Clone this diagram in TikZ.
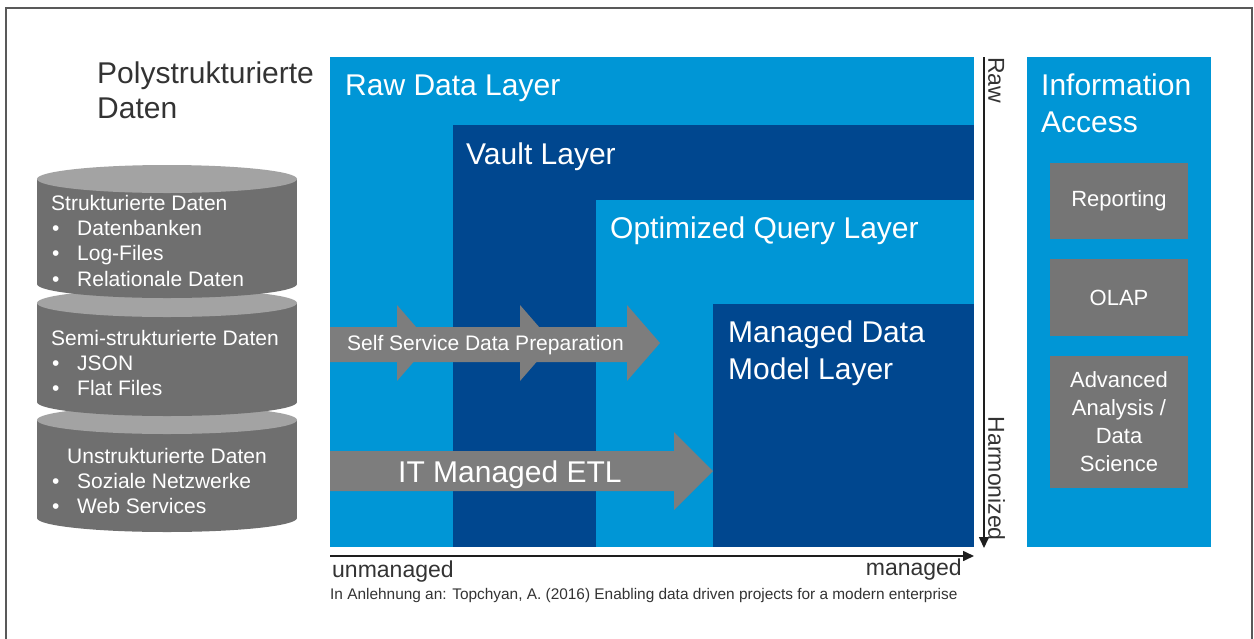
\documentclass[tikz,border=0pt]{standalone}
\usepackage{fontspec}
\setmainfont{Liberation Sans}
\usetikzlibrary{arrows.meta}
\definecolor{lblue}{HTML}{0096D6}
\definecolor{dblue}{HTML}{00478F}
\definecolor{cylbody}{HTML}{6F6F6F}
\definecolor{cyltop}{HTML}{A3A3A3}
\definecolor{agray}{HTML}{7D7D7D}
\definecolor{bgray}{HTML}{757575}
\definecolor{txtdark}{HTML}{333333}
\definecolor{axisc}{HTML}{1E1E1E}
\newcommand\drawcyl[2]{%
  \fill[cylbody] (37,#1) rectangle (297,#2);
  \fill[cylbody] (167,#2) ellipse [x radius=130, y radius=14];
  \fill[cyltop] (167,#1) ellipse [x radius=130, y radius=14];
}
\begin{document}
\begin{tikzpicture}[x=1pt,y=-1pt,
  layertitle/.style={anchor=base west, text=white, inner sep=0pt, font=\fontsize{30}{37}\selectfont},
  cyltext/.style={anchor=base west, text=white, inner sep=0pt, font=\fontsize{21}{25}\selectfont},
  arrowtext/.style={anchor=base west, text=white, inner sep=0pt},
  gbox/.style={fill=bgray, text=white, inner sep=0pt, minimum width=138pt, align=center, font=\fontsize{22}{28}\selectfont},
  axis/.style={line width=1.6pt, draw=axisc, -{Triangle[length=11pt,width=10pt]}},
  axlabel/.style={text=txtdark, inner sep=0pt, font=\fontsize{23}{27}\selectfont}
]
\useasboundingbox (0,0) rectangle (1254,638);
% outer frame
\draw[line width=1.8pt, draw=black!65] (6,650) -- (6,8) -- (1252,8) -- (1252,650);

% title (base = last line)
\node[anchor=base west, text=txtdark, inner sep=0pt, align=left, font=\fontsize{30}{35}\selectfont] (poly) at (97,118) {Polystrukturierte\\Daten};

% cylinders (back to front)
\drawcyl{420}{518}
\drawcyl{303}{402}
\drawcyl{179}{284}

\node[cyltext] (c1t) at (51,210.5) {Strukturierte Daten};
\node[cyltext] (c1b1) at (52,235.5) {•};
\node[cyltext] (c1i1) at (77,235.5) {Datenbanken};
\node[cyltext] (c1b2) at (52,260.5) {•};
\node[cyltext] (c1i2) at (77,260.5) {Log-Files};
\node[cyltext] (c1b3) at (52,286) {•};
\node[cyltext] (c1i3) at (77,286) {Relationale Daten};

\node[cyltext] (c2t) at (51,345.5) {Semi-strukturierte Daten};
\node[cyltext] (c2b1) at (52,370.5) {•};
\node[cyltext] (c2i1) at (77,370.5) {JSON};
\node[cyltext] (c2b2) at (52,395.5) {•};
\node[cyltext] (c2i2) at (77,395.5) {Flat Files};

\node[cyltext] (c3t) at (67,463.5) {Unstrukturierte Daten};
\node[cyltext] (c3b1) at (52,488.5) {•};
\node[cyltext] (c3i1) at (77,488.5) {Soziale Netzwerke};
\node[cyltext] (c3b2) at (52,513.5) {•};
\node[cyltext] (c3i2) at (77,513.5) {Web Services};

% layers
\fill[lblue] (330,57) rectangle (974,547);
\fill[dblue] (453,125) rectangle (974,547);
\fill[lblue] (596,200) rectangle (974,547);
\fill[dblue] (713,304) rectangle (974,547);

\node[layertitle] (raw) at (345,95) {Raw Data Layer};
\node[layertitle] (vault) at (466,164) {Vault Layer};
\node[layertitle] (opt) at (610,238) {Optimized Query Layer};
\node[layertitle, align=left] (mdm) at (728,379) {Managed Data\\Model Layer};

% Self service arrow
\fill[agray] (330,327) -- (627,327) -- (627,305) -- (660,343) -- (627,381) -- (627,362) -- (330,362) -- cycle;
\fill[agray] (397,305) -- (430,343) -- (397,381) -- cycle;
\fill[agray] (520,305) -- (553,343) -- (520,381) -- cycle;
\node[arrowtext, font=\fontsize{21}{25}\selectfont] (ssdp) at (347,350.5) {Self Service Data Preparation};

% IT managed ETL arrow
\fill[agray] (330,451) -- (674,451) -- (674,432) -- (713,471) -- (674,510) -- (674,491) -- (330,491) -- cycle;
\node[arrowtext, font=\fontsize{30}{35}\selectfont] (etl) at (398,482) {IT Managed ETL};

% axes
\coordinate (ytop) at (984,57);
\coordinate (ybot) at (984,548);
\draw[axis] (ytop) -- (ybot);
\coordinate (xl) at (330,556);
\coordinate (xr) at (974,556);
\draw[axis] (xl) -- (xr);

\node[axlabel, rotate=-90, anchor=south west] (rawlab) at (988,57) {Raw};
\node[axlabel, rotate=-90, anchor=south east] (harm) at (988,541) {Harmonized};

\node[axlabel, anchor=base west] (unm) at (332,577) {unmanaged};
\node[axlabel, anchor=base east] (man) at (962,575) {managed};

\node[anchor=base west, text=txtdark, inner sep=0pt, font=\fontsize{15.4}{18}\selectfont] (cap) at (330,599) {In Anlehnung an: Topchyan, A. (2016) Enabling data driven projects for a modern enterprise};

% information access
\fill[lblue] (1027,57) rectangle (1211,547);
\node[layertitle, align=left] (info) at (1041,132) {Information\\Access};
\node[gbox, minimum height=76pt] (rep) at (1119,201) {Reporting};
\node[gbox, minimum height=77pt] (olap) at (1119,297.5) {OLAP};
\node[gbox, minimum height=132pt] (adv) at (1119,422) {Advanced\\Analysis /\\Data\\Science};
\end{tikzpicture}
\end{document}
